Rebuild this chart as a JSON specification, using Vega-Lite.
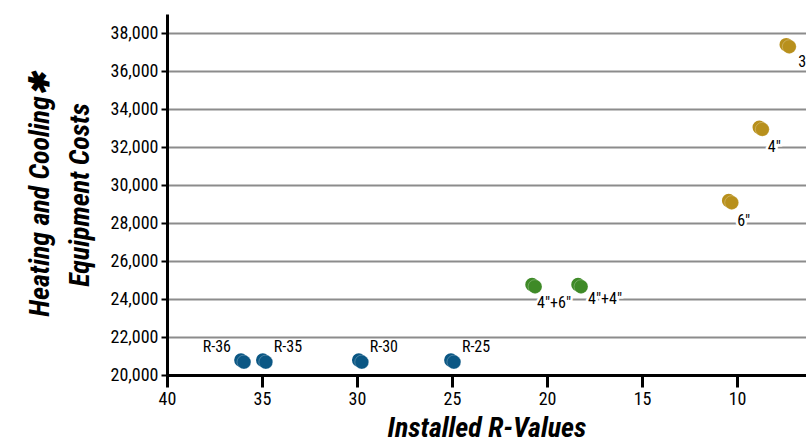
{
  "$schema": "https://vega.github.io/schema/vega-lite/v6.json",
  "autosize": {"type": "none"},
  "padding": {"left": 167, "top": 14, "right": 0, "bottom": 70},
  "width": 639,
  "height": 361,
  "background": "white",
  "config": {
    "view": {"stroke": null},
    "font": "'Liberation Sans Narrow', 'Roboto Condensed', Roboto, sans-serif",
    "text": {"font": "'Liberation Sans Narrow', 'Roboto Condensed', Roboto, sans-serif"},
    "axis": {
      "labelFont": "'Liberation Sans Narrow', 'Roboto Condensed', Roboto, sans-serif",
      "titleFont": "'Liberation Sans Narrow', 'Roboto Condensed', Roboto, sans-serif",
      "labelColor": "black",
      "titleColor": "black",
      "domainColor": "black",
      "tickColor": "black"
    }
  },
  "data": {
    "values": [
      {"rvalue": 35.95, "cost": 20680, "label": "R-36", "group": "blue"},
      {"rvalue": 34.8, "cost": 20680, "label": "R-35", "group": "blue"},
      {"rvalue": 29.75, "cost": 20680, "label": "R-30", "group": "blue"},
      {"rvalue": 24.9, "cost": 20680, "label": "R-25", "group": "blue"},
      {"rvalue": 20.63, "cost": 24650, "label": "4″+6″", "group": "green"},
      {"rvalue": 18.21, "cost": 24650, "label": "4″+4″", "group": "green"},
      {"rvalue": 10.28, "cost": 29070, "label": "6″", "group": "yellow"},
      {"rvalue": 8.67, "cost": 32930, "label": "4″", "group": "yellow"},
      {"rvalue": 7.25, "cost": 37280, "label": "3″", "group": "yellow"}
    ]
  },
  "encoding": {
    "x": {
      "field": "rvalue",
      "type": "quantitative",
      "scale": {"domain": [40, 6.37], "nice": false, "zero": false},
      "axis": {
        "title": "Installed R-Values",
        "titleFontSize": 28,
        "titleFontWeight": "bold",
        "titleFontStyle": "italic",
        "titlePadding": 6,
        "values": [40, 35, 30, 25, 20, 15, 10],
        "labelFontSize": 18,
        "labelPadding": 3,
        "tickSize": 12,
        "tickWidth": 3,
        "domainWidth": 3,
        "grid": false,
        "labelFlush": false
      }
    },
    "y": {
      "field": "cost",
      "type": "quantitative",
      "scale": {"domain": [20000, 39000], "nice": false, "zero": false},
      "axis": {
        "title": ["Heating and Cooling✱", "Equipment Costs"],
        "titleFontSize": 28,
        "titleFontWeight": "bold",
        "titleFontStyle": "italic",
        "titleLineHeight": 40,
        "titlePadding": 16,
        "values": [20000, 22000, 24000, 26000, 28000, 30000, 32000, 34000, 36000, 38000],
        "format": ",d",
        "labelFontSize": 18,
        "labelPadding": 3,
        "tickSize": 6,
        "tickWidth": 2,
        "domainWidth": 3,
        "grid": true,
        "gridColor": "#8c8c8c",
        "gridWidth": 2,
        "labelFlush": false
      }
    }
  },
  "layer": [
    {
      "mark": {"type": "point", "shape": "circle", "filled": true, "size": 185, "opacity": 1, "xOffset": -3, "yOffset": -2},
      "encoding": {
        "color": {
          "field": "group", "type": "nominal", "legend": null,
          "scale": {"domain": ["blue", "green", "yellow"], "range": ["#0b5784", "#3e8a27", "#b8901c"]}
        }
      }
    },
    {
      "mark": {"type": "point", "shape": "circle", "filled": true, "size": 195, "opacity": 1, "stroke": "#ffffff", "strokeWidth": 0.5, "strokeOpacity": 0.5},
      "encoding": {
        "color": {
          "field": "group", "type": "nominal", "legend": null,
          "scale": {"domain": ["blue", "green", "yellow"], "range": ["#1572aa", "#5fab3c", "#ecb52a"]}
        }
      }
    },
    {
      "transform": [{"filter": "datum.label === 'R-36'"}],
      "mark": {"type": "text", "align": "right", "baseline": "middle", "dx": -13, "dy": -15, "fontSize": 16, "color": "black"},
      "encoding": {"text": {"field": "label"}}
    },
    {
      "transform": [{"filter": "datum.group === 'blue' && datum.label !== 'R-36'"}],
      "mark": {"type": "text", "align": "left", "baseline": "middle", "dx": 8, "dy": -15, "fontSize": 16, "color": "black"},
      "encoding": {"text": {"field": "label"}}
    },
    {
      "transform": [{"filter": "datum.label === '4″+6″'"}],
      "mark": {"type": "text", "align": "left", "baseline": "middle", "dx": 2, "dy": 16, "fontSize": 16, "stroke": "white", "strokeWidth": 5, "color": "white"},
      "encoding": {"text": {"field": "label"}}
    },
    {
      "transform": [{"filter": "datum.label === '4″+6″'"}],
      "mark": {"type": "text", "align": "left", "baseline": "middle", "dx": 2, "dy": 16, "fontSize": 16, "color": "black"},
      "encoding": {"text": {"field": "label"}}
    },
    {
      "transform": [{"filter": "datum.label === '4″+4″'"}],
      "mark": {"type": "text", "align": "left", "baseline": "middle", "dx": 7, "dy": 12, "fontSize": 16, "stroke": "white", "strokeWidth": 5, "color": "white"},
      "encoding": {"text": {"field": "label"}}
    },
    {
      "transform": [{"filter": "datum.label === '4″+4″'"}],
      "mark": {"type": "text", "align": "left", "baseline": "middle", "dx": 7, "dy": 12, "fontSize": 16, "color": "black"},
      "encoding": {"text": {"field": "label"}}
    },
    {
      "transform": [{"filter": "datum.label === '6″' || datum.label === '4″'"}],
      "mark": {"type": "text", "align": "center", "baseline": "middle", "dx": 12, "dy": 18, "fontSize": 16, "stroke": "white", "strokeWidth": 5, "color": "white"},
      "encoding": {"text": {"field": "label"}}
    },
    {
      "transform": [{"filter": "datum.label === '6″' || datum.label === '4″'"}],
      "mark": {"type": "text", "align": "center", "baseline": "middle", "dx": 12, "dy": 18, "fontSize": 16, "color": "black"},
      "encoding": {"text": {"field": "label"}}
    },
    {
      "transform": [{"filter": "datum.label === '3″'"}],
      "mark": {"type": "text", "align": "left", "baseline": "middle", "dx": 9, "dy": 15, "fontSize": 16, "color": "black"},
      "encoding": {"text": {"field": "label"}}
    }
  ]
}
